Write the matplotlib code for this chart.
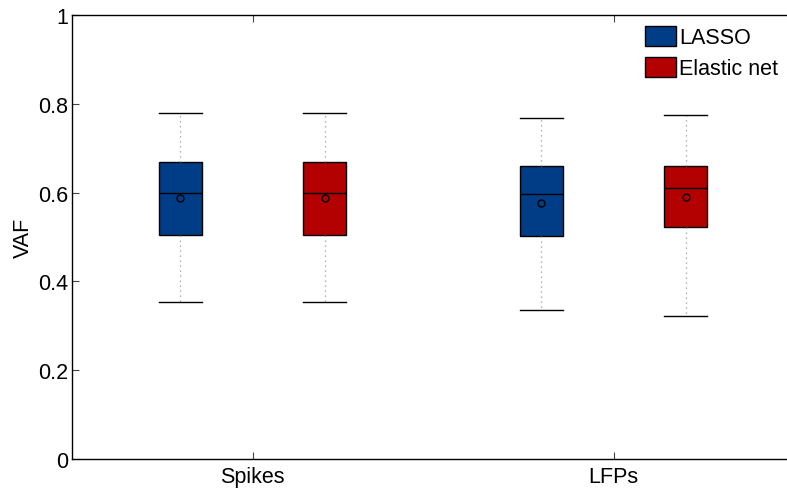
import matplotlib
matplotlib.use("Agg")
import matplotlib.pyplot as plt
from matplotlib.patches import Patch

plt.rcParams['font.family'] = ['Liberation Sans', 'DejaVu Sans']

categories = ["Spikes", "LFPs"]
methods = ["LASSO", "Elastic net"]
colors = ["#003d86", "#b30000"]

# stats per [method][category]: whislo, q1, med, q3, whishi, mean
whislo = [[0.353, 0.335], [0.353, 0.322]]
q1     = [[0.505, 0.502], [0.505, 0.522]]
med    = [[0.600, 0.596], [0.600, 0.610]]
q3     = [[0.670, 0.661], [0.670, 0.660]]
whishi = [[0.779, 0.769], [0.779, 0.775]]
means  = [[0.587, 0.576], [0.587, 0.589]]

FS = 15.5
W, H = 787, 489
fig = plt.figure(figsize=(W / 100, H / 100), dpi=100)
ax = fig.add_axes([72 / W, (H - 460) / H, (794 - 72) / W, 444 / H])

offsets = [-0.2, 0.2]
width = 0.119
for m in range(2):
    stats = []
    pos = []
    for c in range(2):
        stats.append(dict(whislo=whislo[m][c], q1=q1[m][c], med=med[m][c],
                          q3=q3[m][c], whishi=whishi[m][c], mean=means[m][c],
                          fliers=[], label=""))
        pos.append(c + 1 + offsets[m])
    ax.bxp(stats, positions=pos, widths=width, patch_artist=True,
           showmeans=True, manage_ticks=False,
           boxprops=dict(facecolor=colors[m], edgecolor="black", linewidth=1.0),
           medianprops=dict(color="black", linewidth=1.0),
           whiskerprops=dict(color="#999999", linestyle=(0, (1, 3)), linewidth=0.9),
           capprops=dict(color="black", linewidth=1.0),
           capwidths=width,
           meanprops=dict(marker="o", markersize=5, markerfacecolor="none",
                          markeredgecolor="black", markeredgewidth=1.0))

ax.set_xlim(0.5, 2.5)
ax.set_ylim(0, 1)
ax.set_xticks([1, 2])
ax.set_xticklabels(categories)
ax.set_yticks([0, 0.2, 0.4, 0.6, 0.8, 1])
ax.set_yticklabels(["0", "0.2", "0.4", "0.6", "0.8", "1"])
ax.tick_params(direction="in", length=5, width=0.8, labelsize=FS, top=True, right=True,
               color="#444444")
ax.tick_params(axis="x", pad=5)
ax.tick_params(axis="y", pad=3)
for s in ax.spines.values():
    s.set_linewidth(1.0)
ax.set_ylabel("VAF", fontsize=FS, labelpad=3)

handles = [Patch(facecolor=colors[i], edgecolor="black", label=methods[i]) for i in range(2)]
fig.legend(handles=handles, loc="upper left", bbox_to_anchor=(645 / W, 1 - 27 / H),
           frameon=False, fontsize=FS, handlelength=1.45, handleheight=1.05,
           handletextpad=0.15, labelspacing=0.4, borderpad=0, borderaxespad=0)

fig.savefig("out.png", dpi=100)
